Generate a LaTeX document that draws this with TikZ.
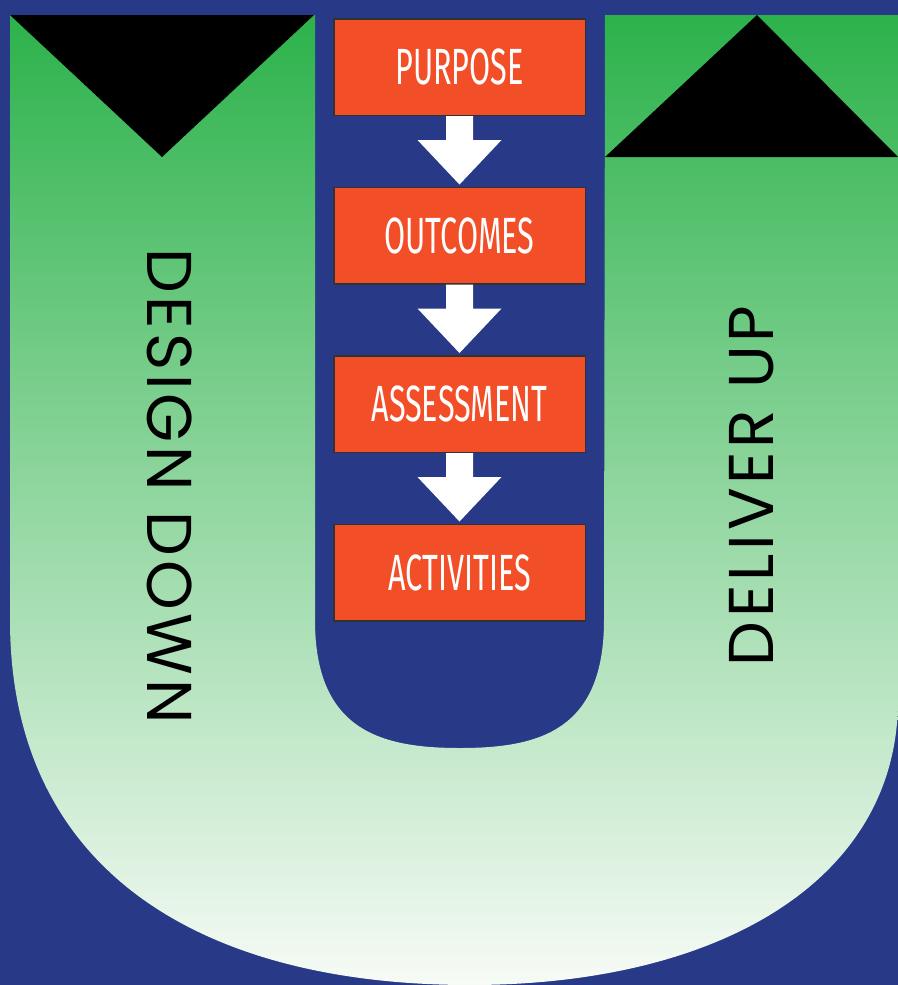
\documentclass[tikz,border=0pt]{standalone}
\usepackage{fontspec}
\usepackage{graphicx}
\usepackage{tikz}
\usetikzlibrary{positioning,calc}
\newfontfamily\boxfont{Fira Sans}
\newfontfamily\sidefont[LetterSpace=6]{Poppins}
\definecolor{ubg}{RGB}{40,57,136}
\definecolor{ugreen}{RGB}{44,178,75}
\definecolor{ufade}{RGB}{247,251,246}
\definecolor{uorange}{RGB}{242,78,40}
\definecolor{uedge}{RGB}{50,50,50}
\newcommand{\boxlabel}[1]{\scalebox{0.6}[1]{#1}}

\begin{document}
\begin{tikzpicture}[x=0.2mm,y=-0.2mm,
	stage/.style={draw=uedge,line width=0.3mm,fill=uorange,text=white,
		minimum width=50.3mm,minimum height=19.3mm,inner sep=0pt,
		font=\boxfont\fontsize{29}{29}\selectfont},
	sidetext/.style={font=\sidefont\fontsize{36}{36}\selectfont,inner sep=0pt},
	blockarrow/.style={fill=white}]
	% background
	\fill[ubg] (0,0) rectangle (898,985);
	\useasboundingbox (0,0) rectangle (898,985);
	% the U
	\shade[top color=ugreen,bottom color=ufade]
	(10,15) -- (315,15) -- (315,620) .. controls (315,730) and (380,748) .. (460,748)
	.. controls (540,748) and (604,730) .. (604,620) -- (605,15) -- (898,15)
	-- (898,700) .. controls (898,880) and (720,985) .. (470,985)
	.. controls (200,985) and (10,870) .. (10,620) -- cycle;
	\fill[black] (10,15) -- (314,15) -- (162,157) -- cycle;
	\fill[black] (605,157) -- (757,15) -- (898,157) -- cycle;
	% stages
	\node[stage] (purpose) at (459.5,67) {\boxlabel{PURPOSE}};
	\node[stage,below=14.1mm of purpose] (outcomes) {\boxlabel{OUTCOMES}};
	\node[stage,below=14.1mm of outcomes] (assessment) {\boxlabel{ASSESSMENT}};
	\node[stage,below=14.1mm of assessment] (activities) {\boxlabel{ACTIVITIES}};
	\foreach \a/\b in {purpose/outcomes,outcomes/assessment,assessment/activities}
	\fill[blockarrow] ($(\a.south)+(-13.5,0)$) -- ++(27,0) -- ++(0,24) -- ++(28.5,0)
	-- ($(\b.north)+(0,-2)$) -- ($(\a.south)+(-42,24)$) -- ++(28.5,0) -- cycle;
	% sides
	\node[sidetext,rotate=-90] (down) at (170,486) {DESIGN DOWN};
	\node[sidetext,rotate=90] (up) at (752,486) {DELIVER UP};
\end{tikzpicture}
\end{document}
